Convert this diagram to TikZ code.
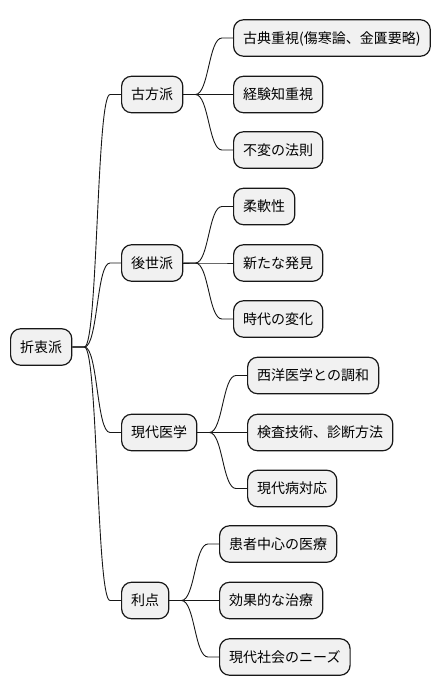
\documentclass[tikz,border=0pt]{standalone}
\usepackage{fontspec}
\setmainfont{Noto Sans CJK JP}
\usetikzlibrary{calc}
\definecolor{boxfill}{HTML}{F1F1F1}
\definecolor{boxline}{HTML}{181818}
\tikzset{
  mmbox/.style={draw=boxline, fill=boxfill, line width=1.2pt, rounded corners=10pt,
    minimum height=36.5pt, inner xsep=9.6pt, inner ysep=0pt,
    text height=11.5pt, text depth=1pt, anchor=west,
    font=\fontsize{14pt}{16pt}\selectfont},
  branch/.style={draw=boxline, line width=0.9pt,
    to path={-- ++(12pt,0) .. controls +(13.5pt,0) and +(-13.5pt,0) .. ($(\tikztotarget)+(-11pt,0)$) -- (\tikztotarget)}}
}
\begin{document}
\begin{tikzpicture}[x=1pt,y=-1pt]
\useasboundingbox (0,0) rectangle (443,696);
% root
\node[mmbox] (root) at (10,347) {折衷派};
% level 1
\node[mmbox] (kohou) at (121,94.5) {古方派};
\node[mmbox] (gosei) at (121,263) {後世派};
\node[mmbox] (gendai) at (121,432.5) {現代医学};
\node[mmbox] (riten) at (121,600.5) {利点};
% level 2
\node[mmbox] (k1) at (233,38) {古典重視(傷寒論、金匱要略)};
\node[mmbox] (k2) at (233,94.5) {経験知重視};
\node[mmbox] (k3) at (233,150) {不変の法則};
\node[mmbox] (g1) at (233,206.5) {柔軟性};
\node[mmbox] (g2) at (233,263) {新たな発見};
\node[mmbox] (g3) at (233,319) {時代の変化};
\node[mmbox] (m1) at (247,375.5) {西洋医学との調和};
\node[mmbox] (m2) at (247,432.5) {検査技術、診断方法};
\node[mmbox] (m3) at (247,488.5) {現代病対応};
\node[mmbox] (r1) at (219,544) {患者中心の医療};
\node[mmbox] (r2) at (219,600.5) {効果的な治療};
\node[mmbox] (r3) at (219,657) {現代社会のニーズ};
% connectors
\foreach \a/\b in {root/kohou, root/gosei, root/gendai, root/riten,
  kohou/k1, kohou/k2, kohou/k3, gosei/g1, gosei/g2, gosei/g3,
  gendai/m1, gendai/m2, gendai/m3, riten/r1, riten/r2, riten/r3}
  \draw[branch] (\a.east) to (\b.west);
\end{tikzpicture}
\end{document}
